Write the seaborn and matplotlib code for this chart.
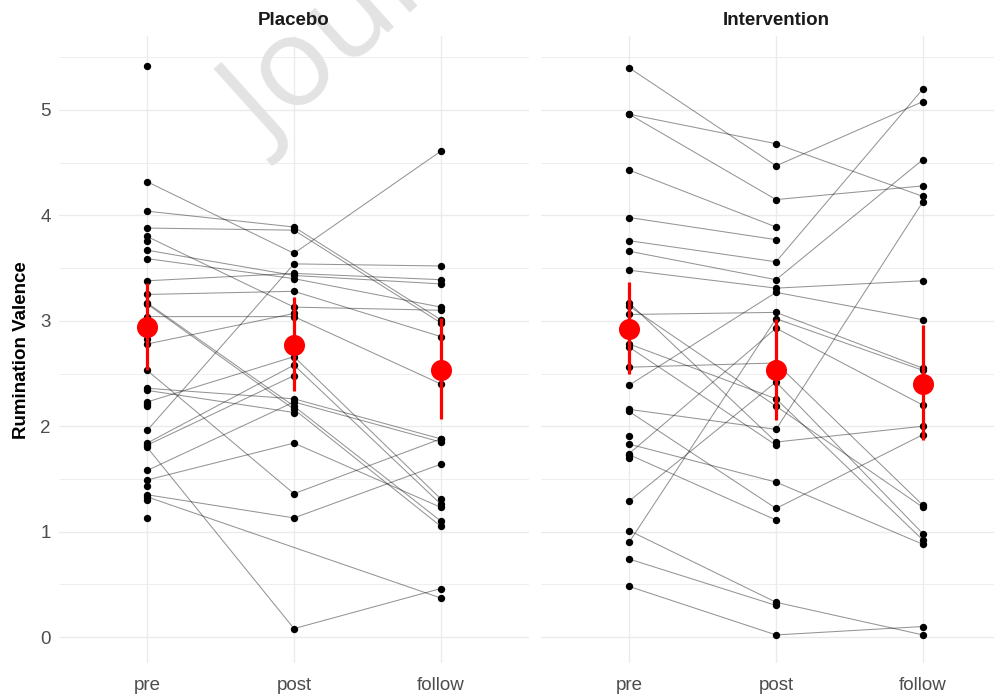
import numpy as np
import pandas as pd
import matplotlib
matplotlib.use("Agg")
import matplotlib.pyplot as plt
import matplotlib.transforms as mtransforms
import seaborn as sns

nan = np.nan
times = ["pre", "post", "follow"]
groups = ["Placebo", "Intervention"]

# Individual trajectories (one entry per subject)
placebo_pre = [5.42, 4.32, 4.04, 3.88, 3.80, 3.76, 3.67, 3.59, 3.38, 3.25, 3.17, 3.16, 3.04,
               2.95, 2.83, 2.78, 2.53, 2.36, 2.34, 2.23, 2.21, 2.19, 1.96, 1.84, 1.82, 1.80,
               1.58, 1.49, 1.43, 1.35, 1.33, 1.30, 1.13]
placebo_post = [nan, 3.64, 3.89, 3.86, 3.13, nan, 3.43, 3.40, 3.45, 3.28, 2.19, 2.16, 3.04,
                nan, nan, 3.07, 1.36, 2.26, 2.13, 2.66, nan, nan, 3.54, 2.58, 2.48, 0.08,
                2.23, 1.84, nan, 1.13, nan, nan, nan]
placebo_follow = [nan, 4.61, 3.01, 2.98, 3.10, nan, 3.35, 3.13, 3.39, 2.85, 1.10, 1.05, 2.40,
                  nan, nan, nan, 1.88, 1.88, nan, 1.31, nan, nan, 3.52, 1.26, nan, 0.46,
                  1.85, 1.23, nan, 1.64, 0.37, nan, nan]

interv_pre = [5.40, 4.96, 4.96, 4.43, 3.98, 3.76, 3.66, 3.48, 3.17, 3.14, 3.06, 2.92, 2.78,
              2.75, 2.56, 2.39, 2.16, 2.14, 1.91, 1.83, 1.74, 1.73, 1.70, 1.29, 1.01, 0.90,
              0.74, 0.48]
interv_post = [4.47, 4.68, 4.15, 3.89, 3.77, 3.56, 3.39, 3.31, 1.85, 2.19, 3.08, nan, 2.26,
               1.82, 2.60, 3.27, 1.97, 1.22, nan, 1.47, 2.93, 1.11, nan, 2.42, 0.33, 3.02,
               0.30, 0.02]
interv_follow = [5.08, 4.18, 4.28, nan, nan, 5.20, 4.53, 3.38, 2.00, 1.23, 2.55, nan, 0.92,
                 nan, 1.25, 3.01, 4.13, 1.92, nan, 0.88, 2.20, nan, nan, 0.98, 0.02, 2.53,
                 nan, 0.10]

# Summary estimates (mean and interval) per time point
placebo_mean = [2.94, 2.77, 2.53]
placebo_lo = [2.53, 2.33, 2.07]
placebo_hi = [3.36, 3.23, 3.03]
interv_mean = [2.92, 2.53, 2.40]
interv_lo = [2.50, 2.06, 1.87]
interv_hi = [3.37, 3.02, 2.96]

# ---- build long tables
rows = []
for g, (pre, post, fol) in zip(groups, [(placebo_pre, placebo_post, placebo_follow),
                                        (interv_pre, interv_post, interv_follow)]):
    for i in range(len(pre)):
        for t, v in zip(times, (pre[i], post[i], fol[i])):
            rows.append({"group": g, "subject": f"{g}_{i}", "time": t,
                         "x": times.index(t), "value": v})
df = pd.DataFrame(rows).dropna(subset=["value"])

srows = []
for g, (m, lo, hi) in zip(groups, [(placebo_mean, placebo_lo, placebo_hi),
                                   (interv_mean, interv_lo, interv_hi)]):
    for t, a, b, c in zip(times, m, lo, hi):
        srows.append({"group": g, "time": t, "x": times.index(t), "mean": a, "lo": b, "hi": c})
summ = pd.DataFrame(srows)

sns.set_theme(style="white")
plt.rcParams["font.family"] = ["Liberation Sans", "DejaVu Sans"]

W, H = 995, 698
fig = plt.figure(figsize=(W / 100, H / 100), dpi=100)

ytop, ybot = 36.2, 663.4
step = 146.9
ax_left = fig.add_axes([59 / W, 1 - ybot / H, 470 / W, (ybot - ytop) / H])
ax_right = fig.add_axes([541 / W, 1 - ybot / H, (W - 541) / W, (ybot - ytop) / H])

grid_col = "#EBEBEB"
tick_col = "#4D4D4D"

for ax, g in zip([ax_left, ax_right], groups):
    d = df[df.group == g]
    s = summ[summ.group == g]
    sns.lineplot(data=d, x="x", y="value", units="subject", estimator=None,
                 color="black", alpha=0.42, linewidth=0.75, ax=ax, legend=False,
                 sort=True, zorder=2)
    sns.scatterplot(data=d, x="x", y="value", color="black", s=28, linewidth=0,
                    ax=ax, legend=False, zorder=3)
    ax.vlines(s["x"], s["lo"], s["hi"], color="red", linewidth=2.3, zorder=4)
    sns.scatterplot(data=s, x="x", y="mean", color="red", s=230, linewidth=0,
                    ax=ax, legend=False, zorder=5)

    ax.set_ylim(-0.25, 5.70)
    ax.set_yticks(range(6))
    ax.set_yticks(np.arange(0.5, 6.0, 1.0), minor=True)
    ax.set_xticks(range(3))
    ax.set_xticklabels(times)
    ax.grid(True, which="major", axis="both", color=grid_col, linewidth=1.0, zorder=0)
    ax.grid(True, which="minor", axis="y", color=grid_col, linewidth=0.6, zorder=0)
    ax.set_axisbelow(True)
    for sp in ax.spines.values():
        sp.set_visible(False)
    ax.tick_params(axis="both", which="both", length=0, labelsize=13.5,
                   labelcolor=tick_col)
    ax.tick_params(axis="x", pad=10)
    ax.tick_params(axis="y", pad=6)
    ax.set_xlabel("")
    ax.set_ylabel("")
    trans = mtransforms.blended_transform_factory(ax.transData, ax.transAxes)
    ax.text(1, 1 + 16 / (ybot - ytop), g, transform=trans, ha="center", va="center",
            fontsize=13.5, fontweight="bold", color="#1A1A1A", zorder=6)

ax_left.set_xlim(-0.6, 2.6)
ax_right.set_xlim(-0.6, -0.6 + (W - 541) / step)
ax_right.tick_params(axis="y", labelleft=False)
ax_left.set_ylabel("Rumination Valence", fontsize=13.5, fontweight="bold",
                   color="black", labelpad=7)

# watermark: above the grid, below the data and the panel title
ax_left.text(268 / W, 1 - 150 / H, "Journal Pre-proof", transform=fig.transFigure,
             rotation=42, rotation_mode="anchor", ha="left", va="baseline",
             fontsize=90, color="#E3E3E3", family=["Open Sans", "DejaVu Sans"],
             zorder=1, clip_on=False)

fig.savefig("out.png", dpi=100)
